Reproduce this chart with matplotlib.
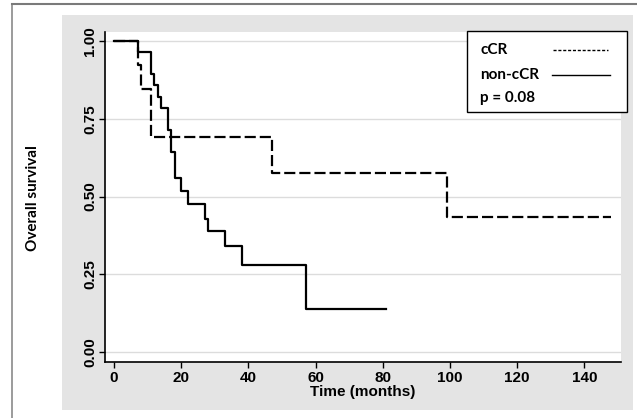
import matplotlib
matplotlib.use("Agg")
import matplotlib.pyplot as plt
from matplotlib.patches import Rectangle
from matplotlib.lines import Line2D

# Data
ccr_time = [0, 7, 8, 11, 47, 99, 148]
ccr_surv = [1.0, 0.923, 0.846, 0.692, 0.577, 0.433, 0.433]
non_time = [0, 7, 11, 12, 13, 14, 16, 17, 18, 20, 22, 27, 28, 33, 38, 57, 81]
non_surv = [1.0, 0.964, 0.893, 0.857, 0.821, 0.786, 0.714, 0.643, 0.558,
            0.517, 0.477, 0.429, 0.389, 0.341, 0.281, 0.138, 0.138]
x_ticks = [0, 20, 40, 60, 80, 100, 120, 140]
y_ticks = [0.0, 0.25, 0.5, 0.75, 1.0]
y_tick_labels = ["0.00", "0.25", "0.50", "0.75", "1.00"]
legend_labels = ["cCR", "non-cCR", "p = 0.08"]

W, H = 637, 418
fig = plt.figure(figsize=(W / 100, H / 100), dpi=100)
fig.patch.set_facecolor("white")

def fx(x):
    return x / W

def fy(y):
    return 1 - y / H

# gray panel
fig.patches.append(Rectangle((fx(62), fy(410)), fx(633) - fx(62), fy(15) - fy(410),
                             transform=fig.transFigure, facecolor="#e4e4e4",
                             edgecolor="none", zorder=-5))
# outer frame lines
fig.lines.append(Line2D([fx(12), fx(12)], [fy(4), 0], transform=fig.transFigure,
                        color="#8a8a8a", lw=1.2, zorder=-5))
fig.lines.append(Line2D([fx(12), 1], [fy(4), fy(4)], transform=fig.transFigure,
                        color="#7a7a7a", lw=1.5, zorder=-5))

ax = fig.add_axes([fx(105), fy(362), fx(621) - fx(105), fy(32) - fy(362)])
ax.set_facecolor("white")
ax.set_xlim(-2.7, 150.9)
ax.set_ylim(-0.032, 1.029)

ax.step(non_time, non_surv, where="post", color="black", lw=1.6, zorder=3)
ax.step(ccr_time, ccr_surv, where="post", color="black", lw=1.6,
        dashes=(5.0, 1.8), zorder=3)

ax.set_yticks(y_ticks)
ax.set_yticklabels(y_tick_labels, rotation=90, va="center")
ax.set_xticks(x_ticks)
for yv in y_ticks:
    ax.axhline(yv, color="#dcdcdc", lw=1.0, zorder=1)

for s in ["top", "right"]:
    ax.spines[s].set_visible(False)
for s in ["left", "bottom"]:
    ax.spines[s].set_linewidth(1.2)
    ax.spines[s].set_color("black")

ax.tick_params(axis="both", direction="out", length=4, width=1.0, color="black",
               labelsize=11)
ax.tick_params(axis="y", pad=1.5)
ax.tick_params(axis="x", pad=2.5)
for lab in ax.get_xticklabels() + ax.get_yticklabels():
    lab.set_fontfamily("Liberation Sans")
    lab.set_fontweight("bold")

ax.set_xlabel("Time (months)", fontfamily="Liberation Sans", fontweight="bold",
              fontsize=11, labelpad=0)

fig.text(fx(33), fy(198), "Overall survival", rotation=90, ha="center", va="center",
         fontfamily="Lato", fontweight="bold", fontsize=11)

# legend box
fig.patches.append(Rectangle((fx(467), fy(112)), fx(627) - fx(467), fy(31) - fy(112),
                             transform=fig.transFigure, facecolor="white",
                             edgecolor="black", lw=1.0, zorder=5))
ys = [50, 75, 98]
for lbl, yy in zip(legend_labels, ys):
    fig.text(fx(480), fy(yy), lbl, ha="left", va="center", fontfamily="Lato",
             fontweight="bold", fontsize=11, zorder=6)
fig.lines.append(Line2D([fx(553), fx(608)], [fy(50), fy(50)], transform=fig.transFigure,
                        color="black", lw=1.0, dashes=(2.2, 1.3), zorder=6))
fig.lines.append(Line2D([fx(552), fx(610)], [fy(75), fy(75)], transform=fig.transFigure,
                        color="black", lw=1.0, zorder=6))

fig.savefig("out.png", dpi=100)
